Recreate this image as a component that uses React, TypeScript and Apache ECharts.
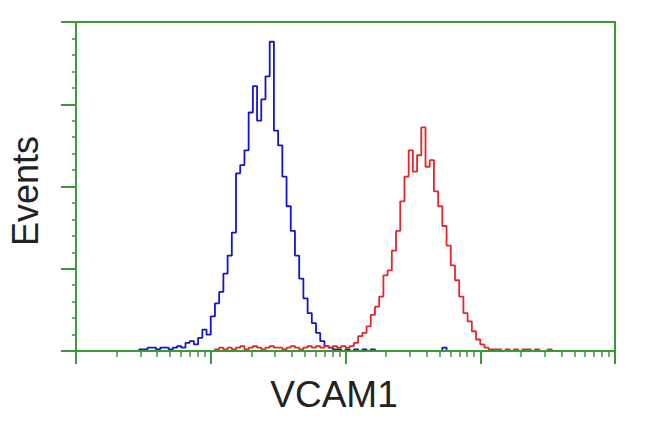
import React, { useEffect, useRef } from "react";
import * as echarts from "echarts";

// Histogram channels: 128 bins over 4 log decades (32 bins per decade)
const binsPerDecade = 32;
const decades = 4;
const minorMultipliers = [2, 3, 4, 5, 6, 7, 8, 9];

const xLabel = "VCAM1";
const yLabel = "Events";

// Control (blue) counts per bin
const blueCounts = [
  0, 0, 0, 0, 0, 0, 0, 0, 0, 0, 0, 0, 0, 0, 0,
  1, 1, 2, 2, 1, 2, 2, 1, 2, 3, 2, 5, 6, 4, 8, 13, 10, 21, 29, 36, 47, 58, 72,
  108, 113, 122, 145, 161, 140, 153, 167, 188, 134, 125, 106, 88, 73, 58, 44,
  32, 23, 17, 11, 6, 3, 2, 1, 1, 0, 1, 0, 1, 0, 1, 0, 1,
  0, 0, 0, 0, 0, 0, 0, 0, 0, 0, 0, 0, 0, 0, 0, 0, 2,
  0, 0, 0, 0, 0, 0, 0, 0, 0, 0, 0, 0, 0, 0, 0, 0, 0, 0, 0, 0,
  0, 0, 0, 0, 0, 0, 0, 0, 0, 0, 0, 0, 0, 0, 0, 0, 0, 0, 0, 0,
];

// VCAM1-stained (red) counts per bin
const redCounts = [
  0, 0, 0, 0, 0, 0, 0, 0, 0, 0, 0, 0, 0, 0, 0, 0, 0, 0, 0, 0, 0, 0, 0, 0, 0,
  0, 0, 0, 0, 0, 0, 0, 0,
  1, 2, 1, 2, 1, 2, 3, 1, 2, 3, 2, 1, 2, 3, 2, 2, 1, 2, 3, 2, 1, 2, 3, 2, 3,
  2, 3, 2, 3, 2, 3, 2, 3,
  5, 9, 11, 15, 22, 27, 33, 46, 49, 61, 73, 91, 106, 122, 109, 119, 136, 112,
  116, 97, 88, 76, 64, 52, 43, 33, 23, 18, 12, 7, 4, 2,
  1, 1, 1, 0, 1, 0, 1, 0, 1, 1, 0, 1, 0, 0, 1,
  0, 0, 0, 0, 0, 0, 0, 0, 0, 0, 0, 0, 0, 0, 0,
];

const GREEN = "#3a9a3a";

export default function App() {
  const ref = useRef<HTMLDivElement>(null);

  useEffect(() => {
    if (!ref.current) return;
    const chart = echarts.init(ref.current, undefined, { renderer: "svg" });
    const maxBin = binsPerDecade * decades;
    const minorTicks: number[] = [];
    for (let d = 0; d < decades; d++) {
      for (const m of minorMultipliers) {
        minorTicks.push(binsPerDecade * (d + Math.log10(m)));
      }
    }
    const toData = (arr: number[]) => arr.map((v, i) => [i, v]);

    chart.setOption({
      animation: false,
      backgroundColor: "#ffffff",
      grid: {
        left: 76,
        right: 35,
        top: 22,
        bottom: 81,
        show: true,
        borderColor: GREEN,
        borderWidth: 2,
        backgroundColor: "transparent",
      },
      xAxis: [
        {
          type: "value",
          position: "bottom",
          min: 0,
          max: maxBin,
          interval: binsPerDecade,
          z: 10,
          axisLine: { show: true, lineStyle: { color: GREEN, width: 2 } },
          axisTick: { show: true, length: 13, lineStyle: { color: GREEN, width: 2 } },
          axisLabel: { show: false },
          splitLine: { show: false },
        },
        {
          type: "value",
          position: "bottom",
          min: 0,
          max: maxBin,
          z: 10,
          axisLine: { show: false },
          axisTick: {
            show: true,
            length: 6,
            customValues: minorTicks,
            lineStyle: { color: GREEN, width: 1.5 },
          },
          axisLabel: { show: false },
          splitLine: { show: false },
        },
      ],
      yAxis: {
        type: "value",
        min: 0,
        max: 200,
        interval: 50,
        z: 10,
        axisLine: { show: true, lineStyle: { color: GREEN, width: 2 } },
        axisTick: { show: true, length: 15, lineStyle: { color: GREEN, width: 2 } },
        minorTick: { show: true, splitNumber: 5, length: 4, lineStyle: { color: GREEN, width: 1.5 } },
        axisLabel: { show: false },
        splitLine: { show: false },
      },
      graphic: [
        {
          type: "text",
          x: 25,
          y: 191,
          rotation: Math.PI / 2,
          style: {
            text: yLabel,
            font: "36px 'Liberation Sans', Arial, sans-serif",
            fill: "#222222",
            align: "center",
            verticalAlign: "middle",
          },
        },
        {
          type: "text",
          x: 334,
          y: 394,
          style: {
            text: xLabel,
            font: "37px 'Liberation Sans', Arial, sans-serif",
            fill: "#222222",
            align: "center",
            verticalAlign: "middle",
          },
        },
      ],
      series: [
        {
          name: "Control",
          type: "line",
          step: "end",
          symbol: "none",
          data: toData(blueCounts),
          lineStyle: { color: "#1414d0", width: 1.8 },
          z: 2,
        },
        {
          name: "VCAM1",
          type: "line",
          step: "end",
          symbol: "none",
          data: toData(redCounts),
          lineStyle: { color: "#e8242a", width: 1.8 },
          z: 3,
        },
      ],
    });
    return () => chart.dispose();
  }, []);

  return (
    <div
      ref={ref}
      style={{ position: "fixed", left: 0, top: 0, width: 650, height: 432, background: "#fff" }}
    />
  );
}
